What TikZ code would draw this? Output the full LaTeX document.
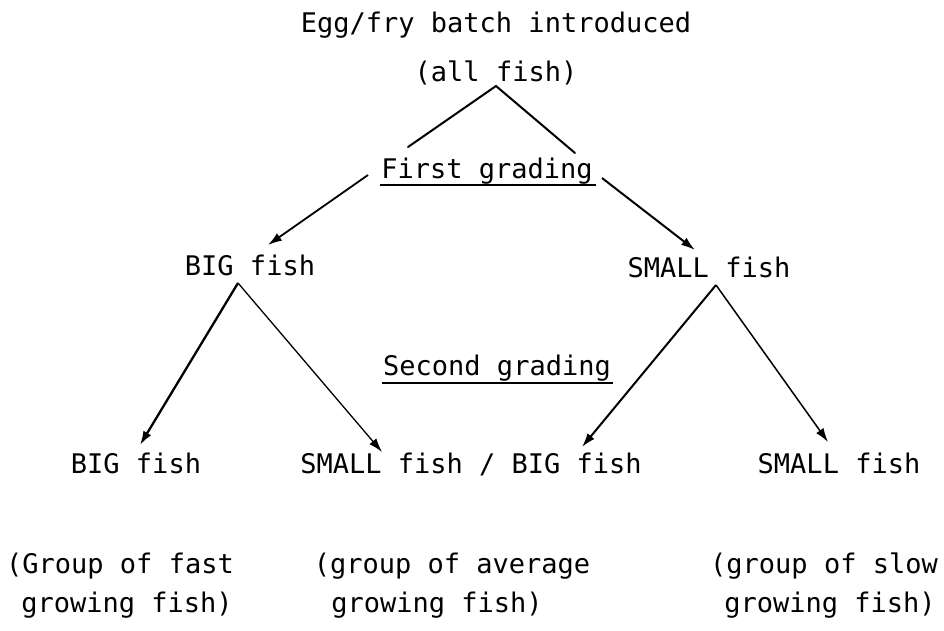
\documentclass[tikz,border=0pt]{standalone}
\usepackage{fontspec}
\setmonofont{DejaVu Sans Mono}
\usetikzlibrary{arrows.meta}
\begin{document}
\begin{tikzpicture}[x=1pt,y=-1pt,
  txt/.style={font=\fontsize{27}{32}\selectfont\ttfamily, inner sep=0pt, anchor=base},
  plainline/.style={line width=2pt, line cap=round},
  arrthick/.style={line width=2.3pt, -{Latex[length=14pt,width=9pt]}},
  arrthin/.style={line width=1.3pt, -{Latex[length=14pt,width=9pt]}},
  uline/.style={line width=2.4pt}]
\useasboundingbox (0,0) rectangle (944,630);
% texts
\node[txt] (egg) at (496,32) {Egg/fry batch introduced};
\node[txt] (all) at (496,81) {(all fish)};
\node[txt] (first) at (487,178) {First grading};
\node[txt] (big1) at (250,275) {BIG fish};
\node[txt] (small1) at (709,277) {SMALL fish};
\node[txt] (second) at (497,375) {Second grading};
\node[txt] (big2) at (136,473) {BIG fish};
\node[txt] (mid) at (471,473) {SMALL fish / BIG fish};
\node[txt] (small2) at (839,473) {SMALL fish};
\node[txt] (g1a) at (120,573) {(Group of fast};
\node[txt] (g1b) at (127,612) {growing fish)};
\node[txt] (g2a) at (452,573) {(group of average};
\node[txt] (g2b) at (437,612) {growing fish)};
\node[txt] (g3a) at (824,573) {(group of slow};
\node[txt] (g3b) at (830,612) {growing fish)};
% underlines
\draw[uline] ([xshift=-1pt,yshift=-7pt]first.base west) -- ([xshift=3pt,yshift=-7pt]first.base east);
\draw[uline] ([xshift=-1pt,yshift=-8pt]second.base west) -- ([xshift=2pt,yshift=-8pt]second.base east);
% connector end points
\coordinate (apex) at (496,86);
\coordinate (a1) at (408,147);
\coordinate (a2) at (575,153);
\coordinate (f1) at (368,175);
\coordinate (b1t) at (268,245);
\coordinate (f2) at (602,178);
\coordinate (s1t) at (695,250);
\coordinate (b1b) at (238,283);
\coordinate (b2t) at (140,445);
\coordinate (m1t) at (382,452);
\coordinate (s1b) at (716,285);
\coordinate (m2t) at (582,447);
\coordinate (s2t) at (828,442);
% connectors
\draw[plainline] (a1) -- (apex) -- (a2);
\draw[arrthick, line width=1.8pt] (f1) -- (b1t);
\draw[arrthick, line width=2pt] (f2) -- (s1t);
\draw[arrthick] (b1b) -- (b2t);
\draw[arrthin] (b1b) -- (m1t);
\draw[arrthick, line width=2pt] (s1b) -- (m2t);
\draw[arrthin, line width=1.5pt] (s1b) -- (s2t);
\end{tikzpicture}
\end{document}
